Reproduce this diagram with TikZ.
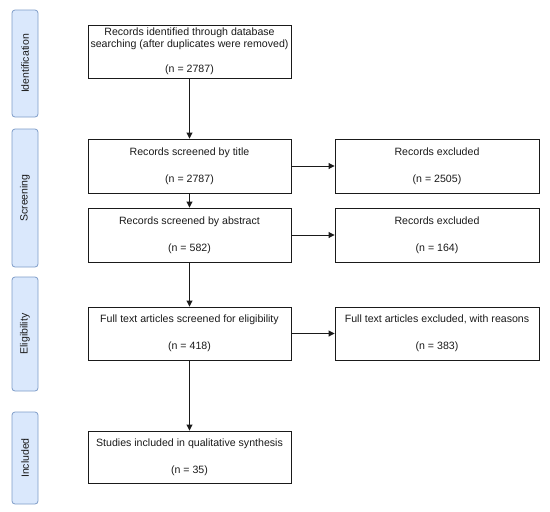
\documentclass[tikz,border=0pt]{standalone}
\usepackage{fontspec}
\setmainfont{Liberation Sans}
\usetikzlibrary{arrows.meta}
\definecolor{lanefill}{HTML}{DAE8FC}
\definecolor{lanedraw}{HTML}{7E9CC8}
\definecolor{ink}{HTML}{1A1A1A}
\begin{document}
\begin{tikzpicture}[x=1pt,y=-1pt,
  box/.style={draw=ink, line width=0.9pt, align=center, inner sep=0pt,
    font=\fontsize{10.6}{13.5}\selectfont, text=ink, minimum width=203pt},
  lane/.style={draw=lanedraw, fill=lanefill, line width=0.8pt, rounded corners=3pt,
    minimum width=26pt, inner sep=0pt, text=ink},
  lanetext/.style={rotate=90, font=\fontsize{10.5}{12}\selectfont, text=ink, inner sep=0pt},
  arr/.style={draw=ink, line width=0.9pt, -{Triangle[length=6pt,width=6pt]}}]
\useasboundingbox (0,0) rectangle (550,512);
% lanes
\node[lane, minimum height=107pt] (l1) at (25,63.5) {};
\node[lanetext] at (l1.center) {Identification};
\node[lane, minimum height=138pt] (l2) at (25,198) {};
\node[lanetext] at (l2.center) {Screening};
\node[lane, minimum height=114pt] (l3) at (25,334) {};
\node[lanetext] at (l3.center) {Eligibility};
\node[lane, minimum height=92pt] (l4) at (25,458) {};
\node[lanetext] at (l4.center) {Included};
% boxes
\node[box, minimum height=53pt, font=\fontsize{10.6}{12.5}\selectfont] (b1) at (189.5,51.5)
  {Records identified through database\\searching (after duplicates were removed)\\[12.5pt](n = 2787)};
\node[box, minimum height=54pt] (b2) at (189.5,166) {Records screened by title\\[13.5pt](n = 2787)};
\node[box, minimum height=54pt] (b3) at (189.5,235) {Records screened by abstract\\[13.5pt](n = 582)};
\node[box, minimum height=53pt] (b4) at (189.5,333.5) {Full text articles screened for eligibility\\[13.5pt](n = 418)};
\node[box, minimum height=52pt] (b5) at (189.5,457) {Studies included in qualitative synthesis\\[13.5pt](n = 35)};
\node[box, minimum height=54pt, minimum width=204pt] (e1) at (437,166) {Records excluded\\[13.5pt](n = 2505)};
\node[box, minimum height=54pt, minimum width=204pt] (e2) at (437,235) {Records excluded\\[13.5pt](n = 164)};
\node[box, minimum height=53pt, minimum width=204pt] (e3) at (437,333.5) {Full text articles excluded, with reasons\\[13.5pt](n = 383)};
% arrows
\draw[arr] (b1) -- (b2);
\draw[arr] (b2) -- (b3);
\draw[arr] (b3) -- (b4);
\draw[arr] (b4) -- (b5);
\draw[arr] (b2) -- (e1);
\draw[arr] (b3) -- (e2);
\draw[arr] (b4) -- (e3);
\end{tikzpicture}
\end{document}
